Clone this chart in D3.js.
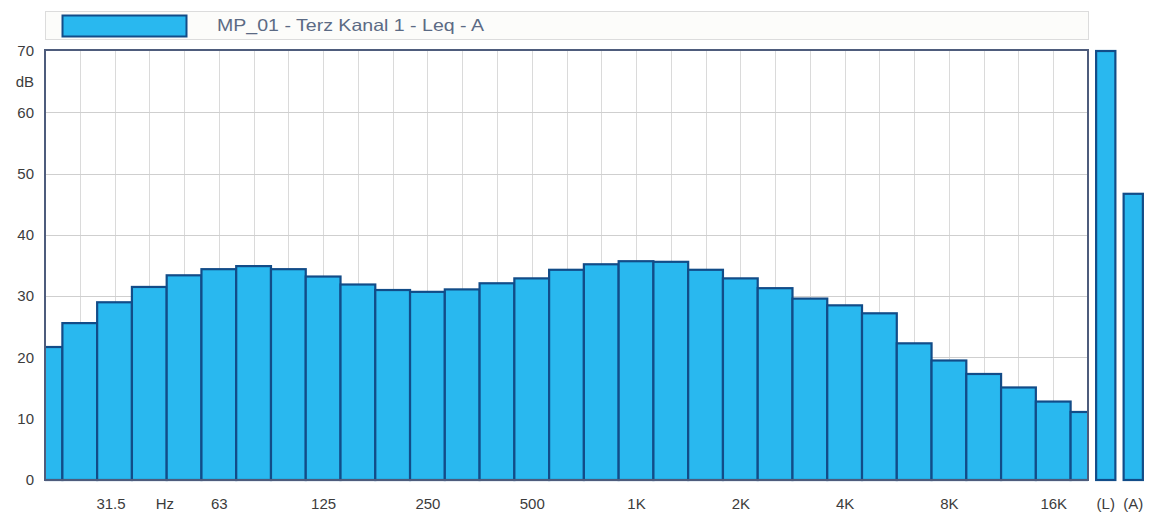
<!DOCTYPE html>
<html>
<head>
<meta charset="utf-8">
<script src="https://cdn.jsdelivr.net/npm/d3@7"></script>
<style>
  html, body { margin: 0; padding: 0; background: #ffffff; }
  svg { display: block; font-family: "Liberation Sans", Arial, sans-serif; }
</style>
</head>
<body>
<svg id="chart" width="1156" height="516"></svg>
<script>
// Third-octave band centre frequencies (20 Hz .. 20 kHz)
const bands = ["20","25","31.5","40","50","63","80","100","125","160","200","250","315","400","500","630","800","1K","1.25K","1.6K","2K","2.5K","3.15K","4K","5K","6.3K","8K","10K","12.5K","16K","20K"];
// Leq per band, dB(A)
const levels = [21.7,25.6,29.0,31.5,33.4,34.4,34.9,34.4,33.2,31.9,31.0,30.7,31.1,32.1,32.9,34.3,35.2,35.7,35.6,34.3,32.9,31.3,29.6,28.5,27.2,22.3,19.5,17.3,15.1,12.8,11.1];
// Overall levels: linear (L) and A-weighted (A)
const totalLabels = ["(L)","(A)"];
const totalLevels = [70, 46.7];
// Labelled bands on the frequency axis
const freqTickLabels = ["31.5","63","125","250","500","1K","2K","4K","8K","16K"];
const dbTicks = [0,10,20,30,40,50,60,70];
const legendText = "MP_01 - Terz Kanal 1 - Leq - A";

const fillColor = "#29b8ef";
const edgeColor = "#124c88";
const frameColor = "#4e5c7c";
const labelColor = "#3c3c3c";

const svg = d3.select("#chart");

const plot = { left: 45, right: 1088, top: 50, bottom: 480 };

const x = d3.scaleLinear().domain([0, bands.length - 1]).range([plot.left, plot.right]);
const step = x(1) - x(0);
const y = d3.scaleLinear().domain([0, 70]).range([plot.bottom, plot.top + 1]);
const xTot = d3.scaleBand().domain(totalLabels).range([1092, 1147]).paddingInner(0.3).paddingOuter(0.15);

// Legend box
const legend = svg.append("g");
legend.append("rect")
  .attr("x", 45.5).attr("y", 11.5).attr("width", 1043).attr("height", 28)
  .attr("fill", "#fcfcfa").attr("stroke", "#dcdcdc");
legend.append("rect")
  .attr("x", 62.5).attr("y", 15.5).attr("width", 124).attr("height", 21)
  .attr("fill", fillColor).attr("stroke", edgeColor).attr("stroke-width", 2);
legend.append("text")
  .attr("x", 217).attr("y", 31)
  .attr("font-size", 16.5).attr("fill", "#5b6a84")
  .attr("textLength", 267).attr("lengthAdjust", "spacingAndGlyphs")
  .text(legendText);

// Grid
const grid = svg.append("g");
grid.selectAll("line.v").data(d3.range(1, bands.length - 1)).join("line")
  .attr("class", "v")
  .attr("x1", d => Math.round(x(d)) + 0.5).attr("x2", d => Math.round(x(d)) + 0.5)
  .attr("y1", plot.top).attr("y2", plot.bottom)
  .attr("stroke", "#dadada").attr("stroke-width", 1);
grid.selectAll("line.h").data(dbTicks.slice(1, -1)).join("line")
  .attr("class", "h")
  .attr("x1", plot.left).attr("x2", plot.right)
  .attr("y1", d => Math.round(y(d)) + 0.5).attr("y2", d => Math.round(y(d)) + 0.5)
  .attr("stroke", "#cfcfcf").attr("stroke-width", 1);

// Clip for the band bars (first and last band are cut in half by the frame)
svg.append("clipPath").attr("id", "plotClip")
  .append("rect")
  .attr("x", plot.left).attr("y", plot.top)
  .attr("width", plot.right - plot.left).attr("height", plot.bottom - plot.top + 2);

svg.append("g").attr("clip-path", "url(#plotClip)")
  .selectAll("rect").data(levels).join("rect")
  .attr("x", (d, i) => x(i) - step / 2)
  .attr("width", step)
  .attr("y", d => y(d))
  .attr("height", d => y(0) - y(d))
  .attr("fill", fillColor)
  .attr("stroke", edgeColor)
  .attr("stroke-width", 2.2);

// Frame
svg.append("rect")
  .attr("x", plot.left).attr("y", plot.top)
  .attr("width", plot.right - plot.left).attr("height", plot.bottom - plot.top)
  .attr("fill", "none").attr("stroke", frameColor).attr("stroke-width", 2);

// Overall level bars
svg.append("g").selectAll("rect").data(totalLevels).join("rect")
  .attr("x", (d, i) => xTot(totalLabels[i]))
  .attr("width", xTot.bandwidth())
  .attr("y", d => y(d))
  .attr("height", d => y(0) - y(d))
  .attr("fill", fillColor)
  .attr("stroke", edgeColor)
  .attr("stroke-width", 2.2);

const styleText = sel => sel.attr("font-size", 15).attr("fill", labelColor)
  .attr("font-family", "Liberation Sans, Arial, sans-serif");

// Y axis
const yAxis = svg.append("g")
  .attr("transform", `translate(${plot.left - 11},0)`)
  .call(d3.axisLeft(y).tickValues(dbTicks).tickSize(0).tickPadding(0).tickFormat(d3.format("d")));
yAxis.select(".domain").remove();
styleText(yAxis.selectAll("text"));
svg.append("text")
  .attr("x", plot.left - 11).attr("y", 87).attr("text-anchor", "end")
  .call(styleText).text("dB");

// X axis (labelled bands)
const xLabelY = plot.bottom + 18;
const labelIdx = freqTickLabels.map(l => bands.indexOf(l));
const xAxis = svg.append("g")
  .attr("transform", `translate(0,${xLabelY})`)
  .call(d3.axisBottom(x).tickValues(labelIdx).tickSize(0).tickPadding(0)
    .tickFormat(d => bands[d]));
xAxis.select(".domain").remove();
styleText(xAxis.selectAll("text"));
xAxis.selectAll("text").filter(d => bands[d] === "31.5").attr("dx", -4);
svg.append("text")
  .attr("x", x(3.45)).attr("y", xLabelY).attr("dy", "0.71em").attr("text-anchor", "middle")
  .call(styleText).text("Hz");

const totAxis = svg.append("g")
  .attr("transform", `translate(0,${xLabelY})`)
  .call(d3.axisBottom(xTot).tickSize(0).tickPadding(0));
totAxis.select(".domain").remove();
styleText(totAxis.selectAll("text"));
</script>
</body>
</html>
